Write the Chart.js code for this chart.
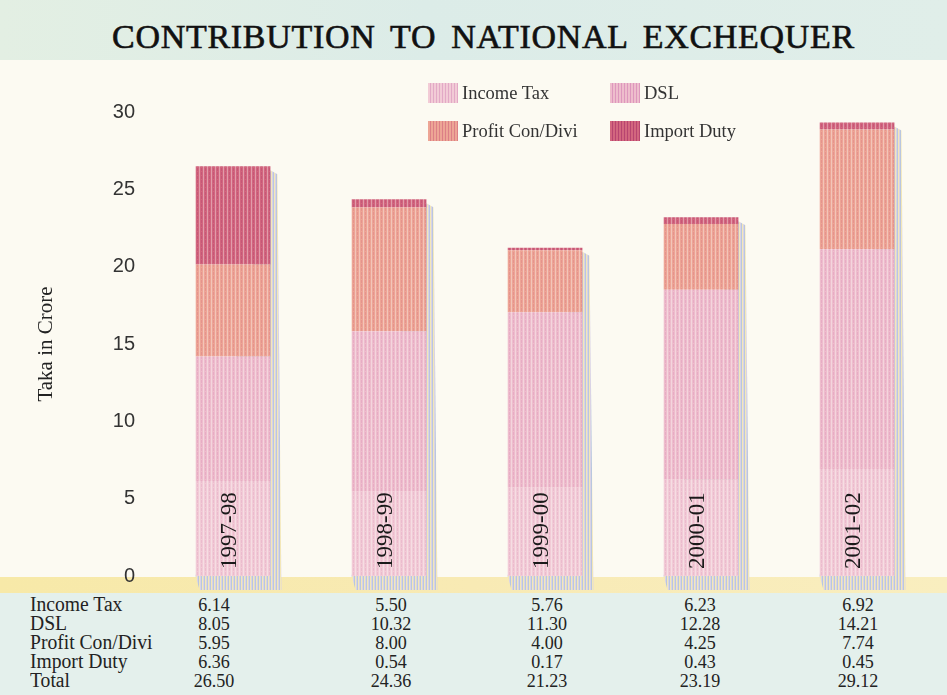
<!DOCTYPE html>
<html>
<head>
<meta charset="utf-8">
<script src="https://cdn.jsdelivr.net/npm/chart.js@4.4.1/dist/chart.umd.min.js"></script>
<style>
  body { margin: 0; width: 947px; height: 695px; position: relative; overflow: hidden; background: #fcfaf2; font-family: "Liberation Serif", serif; color: #222; }
  #band { position: absolute; left: 0; top: 0; width: 947px; height: 60px; background: linear-gradient(90deg, #e3efe3 0%, #dcece8 45%, #e0eee9 100%); }
  #title { position: absolute; left: 10px; top: 6px; width: 947px; text-align: center; line-height: 62px; font-size: 34px; letter-spacing: 0.7px; word-spacing: 6px; color: #111; -webkit-text-stroke: 0.6px #111; }
  #ybar { position: absolute; left: 0; top: 577px; width: 947px; height: 16px; background: linear-gradient(90deg, #f7e9a8 0%, #f8eab4 50%, #f9eebf 100%); }
  #tbl { position: absolute; left: 0; top: 593px; width: 947px; height: 102px; background: #e4f0ec; }
  .cell { position: absolute; line-height: 19px; color: #222; white-space: nowrap; }
  .num { font-size: 19px; transform: translateX(-50%) scaleX(0.95); }
  .lab { font-size: 20px; transform-origin: left center; transform: scaleX(0.98); }
  #legend .sw { position: absolute; width: 30px; height: 20px; }
  #legend .tx { position: absolute; font-size: 18.5px; line-height: 20px; color: #333; }
  canvas { position: absolute; left: 0; top: 60px; }
</style>
</head>
<body>
<div id="band"></div>
<div id="title">CONTRIBUTION TO NATIONAL EXCHEQUER</div>
<div id="ybar"></div>
<div id="tbl"></div>
<canvas id="c" width="947" height="540"></canvas>
<div id="legend"></div>
<script>
const years = ['1997-98', '1998-99', '1999-00', '2000-01', '2001-02'];
const incomeTax = [6.14, 5.50, 5.76, 6.23, 6.92];
const dsl = [8.05, 10.32, 11.30, 12.28, 14.21];
const profitConDivi = [5.95, 8.00, 4.00, 4.25, 7.74];
const importDuty = [6.36, 0.54, 0.17, 0.43, 0.45];
const totals = [26.50, 24.36, 21.23, 23.19, 29.12];
const yTicks = [0, 5, 10, 15, 20, 25, 30];

const series = [
  { label: 'Income Tax', data: incomeTax, color: '#f2cbd6', line: '#e2a9c6' },
  { label: 'DSL', data: dsl, color: '#eebdcc', line: '#dd97bd' },
  { label: 'Profit Con/Divi', data: profitConDivi, color: '#eda595', line: '#dc7f86' },
  { label: 'Import Duty', data: importDuty, color: '#d2667e', line: '#b84470' },
];

// halftone-ish texture like the printed bars
function makePattern(base, line) {
  const t = document.createElement('canvas');
  t.width = 4; t.height = 4;
  const g = t.getContext('2d');
  g.fillStyle = base; g.fillRect(0, 0, 4, 4);
  g.fillStyle = line; g.globalAlpha = 0.45; g.fillRect(1, 0, 1, 3);
  g.fillStyle = '#ffffff'; g.globalAlpha = 0.35; g.fillRect(3, 0, 1, 4);
  return document.getElementById('c').getContext('2d').createPattern(t, 'repeat');
}

// legend (2 x 2)
const legPos = [[428, 83], [610, 83], [428, 121], [610, 121]];
const legend = document.getElementById('legend');
series.forEach((s, i) => {
  const [x, y] = legPos[i];
  legend.insertAdjacentHTML('beforeend',
    `<div class="sw" style="left:${x}px;top:${y}px;background:repeating-linear-gradient(90deg, ${s.color} 0 2px, ${s.line} 2px 3px)"></div>` +
    `<div class="tx" style="left:${x + 34}px;top:${y}px">${s.label}</div>`);
});

// data table under the chart
const tblRows = [['Income Tax', incomeTax], ['DSL', dsl], ['Profit Con/Divi', profitConDivi], ['Import Duty', importDuty], ['Total', totals]];
const colX = [214, 391, 547, 700, 858];
const tbl = document.getElementById('tbl');
tblRows.forEach(([name, vals], r) => {
  const top = 2 + r * 19;
  tbl.insertAdjacentHTML('beforeend', `<div class="cell lab" style="left:30px;top:${top}px">${name}</div>`);
  vals.forEach((v, c) => {
    tbl.insertAdjacentHTML('beforeend', `<div class="cell num" style="left:${colX[c]}px;top:${top}px">${v.toFixed(2)}</div>`);
  });
});

const shadowPlugin = {
  id: 'barShadow',
  beforeDatasetsDraw(chart) {
    const ctx = chart.ctx;
    const metas = chart.getSortedVisibleDatasetMetas();
    const yScale = chart.scales.y;
    const t = document.createElement('canvas');
    t.width = 3; t.height = 2;
    const g = t.getContext('2d');
    g.fillStyle = '#b9c6df'; g.fillRect(0, 0, 1, 2);
    g.fillStyle = '#f3e7b8'; g.fillRect(1, 0, 1, 2);
    g.fillStyle = '#d9d3e6'; g.fillRect(2, 0, 1, 2);
    const pat = ctx.createPattern(t, 'repeat');
    metas[0].data.forEach((bar, i) => {
      const top = Math.min(...metas.map(m => m.data[i].y));
      const right = bar.x + bar.width / 2;
      ctx.save();
      ctx.fillStyle = pat;
      ctx.beginPath();
      ctx.moveTo(right, top + 4);
      ctx.lineTo(right + 7, top + 8);
      ctx.lineTo(right + 11, yScale.bottom + 14);
      ctx.lineTo(bar.x - bar.width / 2 + 4, yScale.bottom + 14);
      ctx.lineTo(bar.x - bar.width / 2, yScale.bottom);
      ctx.closePath();
      ctx.fill();
      ctx.restore();
    });
  },
  afterDatasetsDraw(chart) {
    const ctx = chart.ctx;
    const xScale = chart.scales.x;
    const yScale = chart.scales.y;
    ctx.save();
    ctx.fillStyle = '#1a1a1a';
    ctx.font = '23px "Liberation Serif", serif';
    ctx.textAlign = 'left';
    ctx.textBaseline = 'middle';
    years.forEach((yr, i) => {
      ctx.save();
      ctx.translate(xScale.getPixelForValue(i) - 3, yScale.bottom - 7);
      ctx.rotate(-Math.PI / 2);
      ctx.fillText(yr, 0, 0);
      ctx.restore();
    });
    ctx.restore();
  }
};

new Chart(document.getElementById('c'), {
  type: 'bar',
  data: {
    labels: years,
    datasets: series.map(s => ({
      label: s.label,
      data: s.data,
      backgroundColor: makePattern(s.color, s.line),
      borderWidth: 0,
      categoryPercentage: 1,
      barPercentage: 0.48,
    })),
  },
  options: {
    responsive: false,
    animation: false,
    layout: { padding: { top: 52, bottom: 2, left: 0, right: 12 } },
    plugins: { legend: { display: false }, tooltip: { enabled: false } },
    scales: {
      x: { stacked: true, display: false },
      y: {
        stacked: true,
        min: 0,
        max: 30,
        afterBuildTicks: (scale) => { scale.ticks = yTicks.map(v => ({ value: v })); },
        afterFit: (scale) => { scale.width = 155; },
        grid: { display: false },
        border: { display: false },
        ticks: { padding: 12, color: '#333', font: { family: '"Liberation Sans", Arial, sans-serif', size: 20 } },
        title: { display: true, text: 'Taka in Crore', color: '#222', padding: { top: 34, bottom: 0 }, font: { family: '"Liberation Serif", serif', size: 21 } },
      },
    },
  },
  plugins: [shadowPlugin],
});
</script>
</body>
</html>
